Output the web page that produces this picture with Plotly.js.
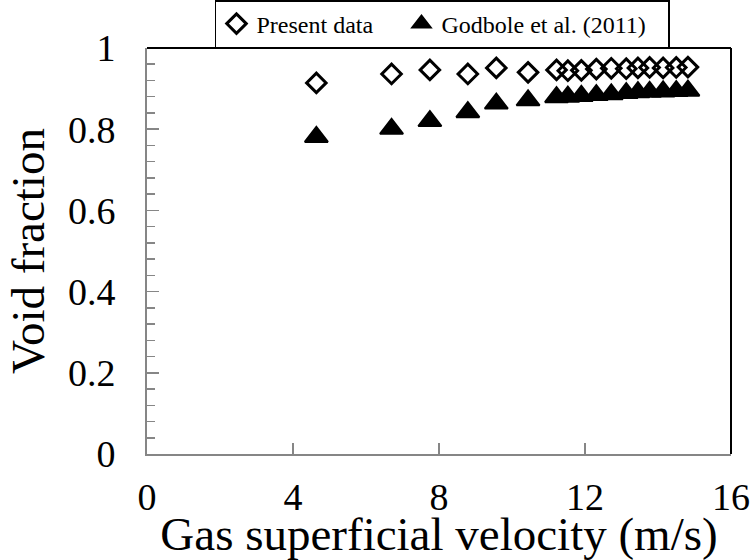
<!DOCTYPE html>
<html>
<head>
<meta charset="utf-8">
<script src="https://cdn.plot.ly/plotly-3.0.1.min.js"></script>
<style>html,body{margin:0;padding:0;background:#fff;}#chart{width:755px;height:560px;}</style>
</head>
<body>
<div id="chart"></div>
<script>
// Present data (open diamonds)
const presentVelocity = [4.64, 6.70, 7.75, 8.79, 9.57, 10.44, 11.22, 11.53, 11.90, 12.31, 12.72, 13.13, 13.45, 13.77, 14.14, 14.50, 14.82];
const presentVoid     = [0.914, 0.936, 0.946, 0.936, 0.951, 0.940, 0.946, 0.944, 0.945, 0.948, 0.950, 0.949, 0.951, 0.952, 0.951, 0.952, 0.953];
// Godbole et al. (2011) (filled triangles)
const godboleVelocity = [4.64, 6.70, 7.75, 8.79, 9.57, 10.44, 11.22, 11.53, 11.90, 12.31, 12.72, 13.13, 13.45, 13.77, 14.14, 14.50, 14.82];
const godboleVoid     = [0.781, 0.801, 0.820, 0.842, 0.863, 0.871, 0.879, 0.880, 0.882, 0.884, 0.886, 0.889, 0.891, 0.892, 0.893, 0.894, 0.895];
const seriesNames = ["Present data", "Godbole et al. (2011)"];
const xTickVals = [0, 4, 8, 12, 16];
const yTickVals = [0, 0.2, 0.4, 0.6, 0.8, 1];
const yTickText = ["0", "0.2", "0.4", "0.6", "0.8", "1"];

const FONT = "Liberation Serif, Times New Roman, serif";
const GRAY = "#868686";

const traces = [
  {
    x: presentVelocity, y: presentVoid, name: seriesNames[0],
    type: "scatter", mode: "markers", legendwidth: 140,
    marker: {symbol: "diamond-open", size: 15, color: "#000", line: {color: "#000", width: 3}}
  },
  {
    x: godboleVelocity, y: godboleVoid, name: seriesNames[1],
    type: "scatter", mode: "markers", legendwidth: 222,
    marker: {symbol: "triangle-up", size: 20, color: "#000", line: {color: "#000", width: 2}}
  }
];

const layout = {
  width: 755, height: 560,
  margin: {l: 147, r: 24, t: 47, b: 106},
  paper_bgcolor: "#fff", plot_bgcolor: "#fff",
  font: {family: FONT, color: "#000"},
  showlegend: true,
  legend: {
    orientation: "h", xref: "paper", x: 0.1164, xanchor: "left",
    yref: "container", y: 1 - 48 / 560, yanchor: "bottom",
    bordercolor: "#000", borderwidth: 1.5, bgcolor: "#fff",
    font: {family: FONT, size: 24, color: "#000"},
    itemwidth: 30
  },
  xaxis: {
    range: [0, 16], tickvals: xTickVals, ticktext: xTickVals.map(String),
    ticks: "inside", ticklen: 11, tickwidth: 1.5, tickcolor: GRAY,
    showline: true, linecolor: GRAY, linewidth: 2, showgrid: false, zeroline: false,
    tickfont: {family: FONT, size: 38, color: "#000"},
    ticklabelstandoff: 8,
    title: {text: "Gas superficial velocity (m/s)", font: {family: FONT, size: 47, color: "#000"}, standoff: 16}
  },
  yaxis: {
    range: [0, 1], tickvals: yTickVals, ticktext: yTickText,
    ticks: "inside", ticklen: 12, tickwidth: 1.5, tickcolor: GRAY,
    minor: {dtick: 0.04, ticks: "inside", ticklen: 8, tickwidth: 1.5, tickcolor: GRAY},
    showline: true, linecolor: GRAY, linewidth: 2, showgrid: false, zeroline: false,
    tickfont: {family: FONT, size: 38, color: "#000"},
    ticklabelstandoff: 22,
    title: {text: "Void fraction", font: {family: FONT, size: 47, color: "#000"}, standoff: 8}
  },
  shapes: [
    {type: "line", xref: "paper", yref: "paper", x0: 0, x1: 1, y0: 1, y1: 1, line: {color: "#000", width: 2}},
    {type: "line", xref: "paper", yref: "paper", x0: 1, x1: 1, y0: 0, y1: 1, line: {color: "#000", width: 2}}
  ]
};

Plotly.newPlot("chart", traces, layout, {displayModeBar: false, staticPlot: true});
</script>
</body>
</html>
